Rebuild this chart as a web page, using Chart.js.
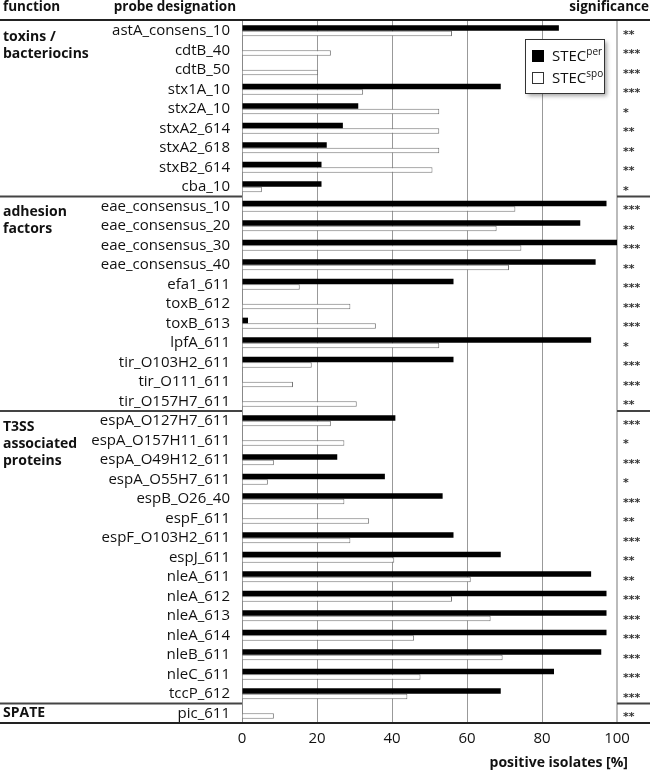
<!DOCTYPE html>
<html>
<head>
<meta charset="utf-8">
<script src="https://cdn.jsdelivr.net/npm/chart.js@4.4.1/dist/chart.umd.min.js"></script>
<style>
  body { margin: 0; background: #fff; }
  #wrap { width: 650px; height: 771px; }
</style>
</head>
<body>
<div id="wrap"><canvas id="chart"></canvas></div>
<script>
const probes = [
    'astA_consens_10', 'cdtB_40', 'cdtB_50', 'stx1A_10', 'stx2A_10', 'stxA2_614', 'stxA2_618', 'stxB2_614', 'cba_10',
    'eae_consensus_10', 'eae_consensus_20', 'eae_consensus_30', 'eae_consensus_40', 'efa1_611', 'toxB_612', 'toxB_613',
    'lpfA_611', 'tir_O103H2_611', 'tir_O111_611', 'tir_O157H7_611',
    'espA_O127H7_611', 'espA_O157H11_611', 'espA_O49H12_611', 'espA_O55H7_611', 'espB_O26_40', 'espF_611',
    'espF_O103H2_611', 'espJ_611', 'nleA_611', 'nleA_612', 'nleA_613', 'nleA_614', 'nleB_611', 'nleC_611', 'tccP_612',
    'pic_611'
];
const stecPer = [84.5, 0, 0, 69.0, 31.0, 26.9, 22.6, 21.2, 21.2,
    97.2, 90.2, 100, 94.3, 56.4, 0, 1.6, 93.1, 56.4, 0, 0,
    40.9, 0, 25.4, 38.1, 53.5, 0, 56.4, 69.0, 93.1, 97.2, 97.2, 97.2, 95.8, 83.2, 69.0,
    0];
const stecSpo = [56.0, 23.7, 20.3, 32.3, 52.6, 52.6, 52.6, 50.8, 5.3,
    72.9, 67.9, 74.5, 71.2, 15.4, 28.9, 35.7, 52.6, 18.6, 13.6, 30.6,
    23.7, 27.3, 8.5, 6.9, 27.3, 33.9, 28.9, 40.6, 61.0, 56.0, 66.3, 45.9, 69.5, 47.6, 44.1,
    8.5];
const significance = ['**', '***', '***', '***', '*', '**', '**', '**', '*',
    '***', '**', '***', '**', '***', '***', '***', '*', '***', '***', '**',
    '***', '*', '***', '*', '***', '**', '***', '**', '**', '***', '***', '***', '***', '***', '***',
    '**'];
const groupNames = [['toxins /', 'bacteriocins'], ['adhesion', 'factors'], ['T3SS', 'associated', 'proteins'], ['SPATE']];
const groupSizes = [9, 11, 15, 1];
const seriesBase = ['STEC', 'STEC'];
const seriesSup = ['per', 'spo'];
const xTicks = [0, 20, 40, 60, 80, 100];

const FONT = "'Open Sans', 'Liberation Sans', sans-serif";

// everything around the plot: headers, groups, separators, stars, legend
const tableDecor = {
    id: 'tableDecor',
    afterDraw(chart) {
        const ctx = chart.ctx;
        const area = chart.chartArea;
        const y = chart.scales.y;
        const W = chart.width;
        const half = (y.getPixelForValue(1) - y.getPixelForValue(0)) / 2;
        ctx.save();

        // header row
        ctx.fillStyle = '#111';
        ctx.textBaseline = 'middle';
        ctx.font = 'bold 13.5px ' + FONT;
        ctx.textAlign = 'left';
        ctx.fillText('function', 3, 7);
        ctx.textAlign = 'right';
        ctx.fillText('probe designation', 236, 7);
        ctx.fillText('significance', W - 1, 7);

        ctx.strokeStyle = '#222';
        ctx.lineWidth = 2;
        ctx.beginPath();
        ctx.moveTo(0, area.top - 1); ctx.lineTo(W, area.top - 1);
        ctx.moveTo(0, area.bottom); ctx.lineTo(W, area.bottom);
        ctx.stroke();

        // groups + separators
        let start = 0;
        groupNames.forEach((lines, g) => {
            const top = y.getPixelForValue(start) - half;
            ctx.font = 'bold 14px ' + FONT;
            ctx.textAlign = 'left';
            ctx.fillStyle = '#111';
            lines.forEach((ln, k) => {
                const off = groupSizes[g] === 1 ? half : 16 + k * 17;
                ctx.fillText(ln, 3, top + off);
            });
            if (start > 0) {
                ctx.strokeStyle = '#444';
                ctx.lineWidth = 2;
                ctx.beginPath();
                ctx.moveTo(0, top); ctx.lineTo(area.left, top);
                ctx.moveTo(area.right, top); ctx.lineTo(W, top);
                ctx.stroke();
            }
            start += groupSizes[g];
        });

        // significance stars
        ctx.font = "bold 11px 'DejaVu Sans', sans-serif";
        ctx.textAlign = 'left';
        ctx.fillStyle = '#333';
        significance.forEach((s, i) => {
            ctx.fillText(s, area.right + 6, y.getPixelForValue(i) + 4);
        });

        // axis title
        ctx.font = 'bold 14px ' + FONT;
        ctx.textAlign = 'right';
        ctx.fillStyle = '#111';
        ctx.fillText('positive isolates [%]', 628, 763);

        // legend
        const lx = 525, ly = 39, lw = 79, lh = 54;
        ctx.shadowColor = 'rgba(0,0,0,0.35)';
        ctx.shadowBlur = 4;
        ctx.shadowOffsetX = 3;
        ctx.shadowOffsetY = 3;
        ctx.fillStyle = '#fff';
        ctx.fillRect(lx, ly, lw, lh);
        ctx.shadowColor = 'transparent';
        ctx.strokeStyle = '#333';
        ctx.lineWidth = 1;
        ctx.strokeRect(lx + 0.5, ly + 0.5, lw, lh);
        chart.data.datasets.forEach((ds, i) => {
            const cy = ly + 17 + i * 22;
            ctx.fillStyle = ds.backgroundColor;
            ctx.fillRect(lx + 7, cy - 6, 12, 12);
            if (ds.borderWidth) {
                ctx.strokeStyle = '#333';
                ctx.strokeRect(lx + 7.5, cy - 5.5, 11, 11);
            }
            ctx.fillStyle = '#111';
            ctx.textAlign = 'left';
            ctx.font = '15px ' + FONT;
            ctx.fillText(seriesBase[i], lx + 27, cy + 1);
            const w = ctx.measureText(seriesBase[i]).width;
            ctx.font = '10px ' + FONT;
            ctx.fillText(seriesSup[i], lx + 27 + w, cy - 4);
        });
        ctx.restore();
    }
};

new Chart(document.getElementById('chart'), {
    type: 'bar',
    data: {
        labels: probes,
        datasets: [
            { label: 'STECper', data: stecPer, backgroundColor: '#000', borderWidth: 0 },
            { label: 'STECspo', data: stecSpo, backgroundColor: '#fff', borderColor: '#777', borderWidth: 1 }
        ]
    },
    options: {
        indexAxis: 'y',
        responsive: true,
        maintainAspectRatio: false,
        animation: false,
        categoryPercentage: 0.575,
        barPercentage: 1,
        layout: { padding: { top: 17, right: 33, left: 0, bottom: 0 } },
        plugins: { legend: { display: false }, tooltip: { enabled: false } },
        scales: {
            x: {
                min: 0, max: 100,
                afterBuildTicks: (s) => { s.ticks = xTicks.map(v => ({ value: v })); },
                afterFit: (s) => { s.height = 48; },
                ticks: { color: '#111', font: { family: FONT, size: 15 }, padding: 7 },
                grid: {
                    drawTicks: false,
                    color: (c) => c.tick && c.tick.value === 100 ? '#bbb' : '#999',
                    lineWidth: (c) => c.tick && c.tick.value === 100 ? 2 : 1
                },
                border: { display: false }
            },
            y: {
                afterFit: (s) => { s.width = 242; },
                ticks: { color: '#111', font: { family: FONT, size: 15 }, padding: 12, autoSkip: false },
                grid: { display: false, drawTicks: false },
                border: { display: true, color: '#888', width: 1 }
            }
        }
    },
    plugins: [tableDecor]
});
</script>
</body>
</html>
